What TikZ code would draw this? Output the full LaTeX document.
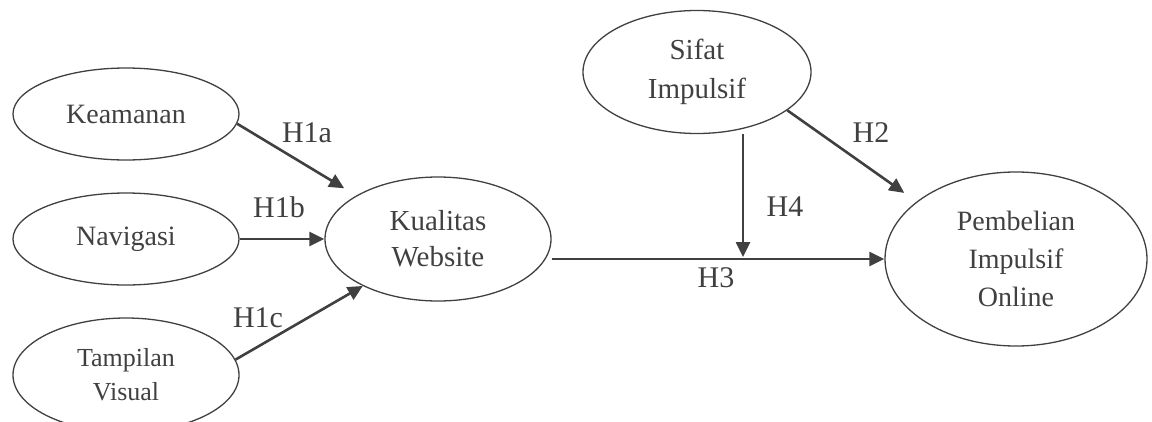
\documentclass[tikz,border=0pt]{standalone}
\usepackage{fontspec}
\setmainfont{Liberation Serif}
\usetikzlibrary{arrows.meta,shapes.geometric}
\definecolor{ink}{HTML}{404040}
\begin{document}
\begin{tikzpicture}[x=1pt,y=-1pt,
  lat/.style={draw=ink, line width=1.3pt, ellipse, inner sep=0pt, text=ink, align=center,
              font=\fontsize{28}{37}\selectfont},
  arr/.style={draw=ink, line width=2.6pt, -{Triangle[length=15pt,width=14pt]}},
  hyp/.style={text=ink, inner sep=0pt, font=\fontsize{30}{36}\selectfont}]
\clip (0,0) rectangle (1152,421);
% constructs
\node[lat, minimum width=226pt, minimum height=92pt] (kea) at (126,114) {Keamanan};
\node[lat, minimum width=226pt, minimum height=92pt] (nav) at (126,239) {Navigasi};
\node[lat, minimum width=226pt, minimum height=114pt, font=\fontsize{26}{34}\selectfont] (tv) at (126,375) {Tampilan\\Visual};
\node[lat, minimum width=226pt, minimum height=124pt, font=\fontsize{29}{36}\selectfont] (kw) at (438,239) {Kualitas\\Website};
\node[lat, minimum width=228pt, minimum height=123pt, font=\fontsize{29}{39}\selectfont] (sif) at (697,72) {Sifat\\Impulsif};
\node[lat, minimum width=262pt, minimum height=174pt, font=\fontsize{28}{38}\selectfont] (pim) at (1016,259) {Pembelian\\Impulsif\\Online};
% hypothesis labels
\node[hyp] (l1a) at (307,133) {H1a};
\node[hyp] (l1b) at (279,207) {H1b};
\node[hyp] (l1c) at (258,318) {H1c};
\node[hyp] (l2) at (871,133) {H2};
\node[hyp] (l4) at (785,207) {H4};
\node[hyp] (l3) at (716,278) {H3};
% connectors
\draw[arr, shorten >=14pt] (kea.-5) -- (kw.152);
\draw[arr] (nav.east) -- (nav.east -| kw.west);
\draw[arr] (tv.8) -- (kw.212);
\draw[arr] (kw.east |- pim.west) -- (pim.west);
\coordinate (mod) at (743,257);
\draw[arr] (sif.south -| mod) -- (mod);
\draw[arr, shorten >=15pt] (sif.-23) -- (pim.150);
\end{tikzpicture}
\end{document}
